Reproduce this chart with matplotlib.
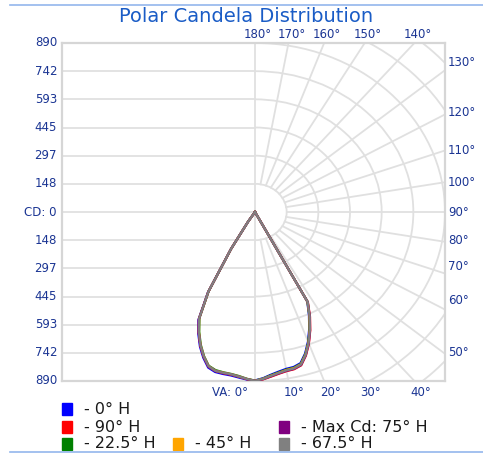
import numpy as np
import matplotlib
matplotlib.use("Agg")
import matplotlib.pyplot as plt
from matplotlib.patches import Arc, Rectangle

# ---------------- data ----------------
angles = [0, 2.5, 5, 7.5, 10, 12.5, 15, 17.5, 20, 22.5, 25, 27.5, 30, 32.5, 35, 37.5, 40, 42.5]

blue_left   = [890, 883, 875, 868, 866, 863, 848, 805, 754, 694, 627, 478, 225, 60, 0, 0, 0, 0]
red_left    = [890, 881, 871, 864, 862, 858, 843, 800, 749, 689, 622, 474, 224, 60, 0, 0, 0, 0]
green_left  = [888, 879, 867, 860, 857, 853, 838, 795, 743, 683, 616, 470, 222, 60, 0, 0, 0, 0]
orange_left = [889, 880, 869, 862, 859, 856, 840, 797, 746, 686, 619, 472, 223, 60, 0, 0, 0, 0]
purple_left = [889, 881, 870, 863, 861, 857, 842, 799, 748, 688, 621, 473, 224, 60, 0, 0, 0, 0]
gray_left   = [889, 880, 870, 862, 860, 857, 841, 798, 747, 687, 620, 473, 224, 60, 0, 0, 0, 0]

red_right    = [890, 882, 870, 859, 851, 848, 836, 793, 738, 676, 610, 537, 0, 0, 0, 0, 0, 0]
purple_right = [890, 881, 868, 857, 849, 846, 834, 791, 736, 674, 608, 535, 0, 0, 0, 0, 0, 0]
gray_right   = [889, 880, 866, 855, 847, 844, 832, 789, 734, 672, 606, 534, 0, 0, 0, 0, 0, 0]
orange_right = [889, 879, 865, 854, 845, 842, 830, 787, 732, 670, 604, 533, 0, 0, 0, 0, 0, 0]
green_right  = [888, 878, 863, 852, 843, 840, 828, 785, 730, 668, 602, 532, 0, 0, 0, 0, 0, 0]
blue_right   = [887, 876, 860, 848, 839, 836, 824, 781, 726, 664, 598, 530, 0, 0, 0, 0, 0, 0]

series_names = ["- 0\u00b0 H", "- 90\u00b0 H", "- 22.5\u00b0 H", "- 45\u00b0 H", "- Max Cd: 75\u00b0 H", "- 67.5\u00b0 H"]
series_colors = ["#0000ff", "#ff0000", "#008000", "#ffa500", "#800080", "#808080"]
series_left = [blue_left, red_left, green_left, orange_left, purple_left, gray_left]
series_right = [blue_right, red_right, green_right, orange_right, purple_right, gray_right]

cd_max = 890
cd_step = cd_max / 6.0
cd_labels = ["890", "742", "593", "445", "297", "148", "CD: 0", "148", "297", "445", "593", "742", "890"]
right_labels = ["130\u00b0", "120\u00b0", "110\u00b0", "100\u00b0", "90\u00b0", "80\u00b0", "70\u00b0", "60\u00b0", "50\u00b0"]
top_angles = [180, 170, 160, 150, 140]
top_labels = ["180\u00b0", "170\u00b0", "160\u00b0", "150\u00b0", "140\u00b0"]
bottom_angles = [0, 10, 20, 30, 40]
bottom_labels = ["VA: 0\u00b0", "10\u00b0", "20\u00b0", "30\u00b0", "40\u00b0"]

# ---------------- figure ----------------
W, H = 483, 455
fig = plt.figure(figsize=(W / 100, H / 100), dpi=100)
fig.patch.set_facecolor("white")

L, R, T, B = 62, 445, 43, 381
cx_px, cy_px = 255, 212
sx = (R - cx_px) / cd_max   # px per cd horizontally
sy = (B - cy_px) / cd_max   # px per cd vertically

ax = fig.add_axes([L / W, (H - B) / H, (R - L) / W, (B - T) / H])
ax.set_xlim(-(cx_px - L) / sx, cd_max)
ax.set_ylim(-cd_max, cd_max)
ax.set_xticks([])
ax.set_yticks([])
for s in ax.spines.values():
    s.set_color("#d6d6d6")
    s.set_linewidth(1.6)

gc = "#e0e0e0"
glw = 1.3
xmin = ax.get_xlim()[0]
# left: horizontal grid
for k in range(-5, 6):
    ax.plot([xmin, 0], [k * cd_step, k * cd_step], color=gc, lw=glw, zorder=1)
ax.axvline(0, color=gc, lw=glw, zorder=1)
# right: polar grid
for k in range(1, 10):
    r = k * cd_step
    ax.add_patch(Arc((0, 0), 2 * r, 2 * r, theta1=-90, theta2=90, color=gc, lw=glw, zorder=1))
for a in range(10, 180, 10):
    t = np.radians(a)
    r0, r1 = cd_step, 3000
    ax.plot([r0 * np.sin(t), r1 * np.sin(t)], [-r0 * np.cos(t), -r1 * np.cos(t)],
            color=gc, lw=glw, zorder=1)

# curves
th = np.radians(angles)
for lv, rv, c in zip(series_left, series_right, series_colors):
    lv = np.array(lv, float)
    rv = np.array(rv, float)
    ax.plot(-lv * np.sin(th), -lv * np.cos(th), color=c, lw=1.6, zorder=3,
            solid_joinstyle="round")
    ax.plot(rv * np.sin(th), -rv * np.cos(th), color=c, lw=1.6, zorder=3,
            solid_joinstyle="round")

lab_c = "#1b3593"
fs = 8.5
PT = 72 / 100.0  # points per pixel

# top labels at ray crossings with the top edge
for a, t in zip(top_angles, top_labels):
    xd = cd_max * np.tan(np.radians(180 - a))
    ax.annotate(t, xy=(xd, cd_max), xytext=(3 * PT, 9 * PT), textcoords="offset points",
                ha="center", va="center", color=lab_c, fontsize=fs, annotation_clip=False)
# bottom labels at ray crossings with the bottom edge
for a, t in zip(bottom_angles, bottom_labels):
    xd = cd_max * np.tan(np.radians(a))
    if a == 0:
        ax.annotate(t, xy=(xd, -cd_max), xytext=(-7 * PT, -11 * PT), textcoords="offset points",
                    ha="right", va="center", color=lab_c, fontsize=fs, annotation_clip=False)
    else:
        ax.annotate(t, xy=(xd, -cd_max), xytext=(6 * PT, -11 * PT), textcoords="offset points",
                    ha="center", va="center", color=lab_c, fontsize=fs, annotation_clip=False)

# ---------------- overlay for text (pixel coords) ----------------
ov = fig.add_axes([0, 0, 1, 1], facecolor="none")
ov.set_xlim(0, W)
ov.set_ylim(H, 0)
ov.axis("off")

# left labels
for i, t in enumerate(cd_labels):
    y = T + i * (B - T) / 12.0
    ov.text(57, y, t, ha="right", va="center", color=lab_c, fontsize=fs)
# right labels
right_y = [62, 113, 150, 183, 213, 241, 267, 300, 353]
for t, y in zip(right_labels, right_y):
    ov.text(448, y, t, ha="left", va="center", color=lab_c, fontsize=fs)

# title
ov.text(246, 17, "Polar Candela Distribution", ha="center", va="center",
        color="#1a5cc6", fontsize=14)
# frame lines
ov.plot([10, W], [5, 5], color="#93b6ec", lw=1.2)
ov.plot([10, W], [452, 452], color="#93b6ec", lw=1.2)

# legend
leg_pos = [(62, 409), (62, 427), (62, 444), (173, 444), (279, 427), (279, 444)]
for (x, y), name, c in zip(leg_pos, series_names, series_colors):
    ov.add_patch(Rectangle((x, y - 6), 10, 12, color=c))
    ov.text(x + 22, y, name, ha="left", va="center", color="#1a1a1a", fontsize=11.5)

fig.savefig("out.png", dpi=100, facecolor="white")
